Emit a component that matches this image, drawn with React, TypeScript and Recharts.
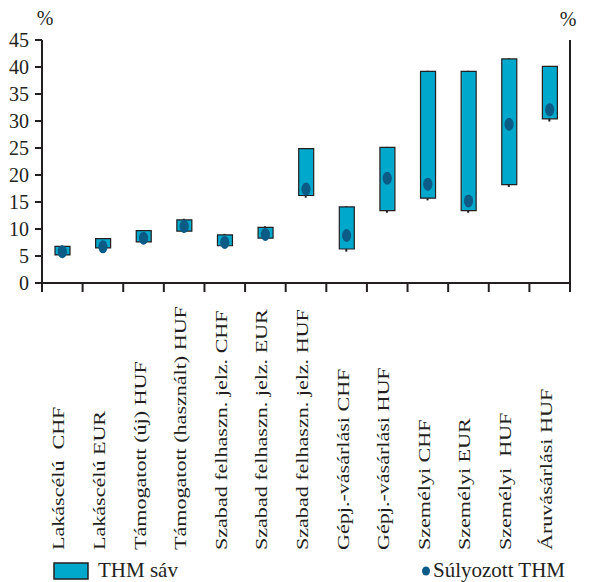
import React from 'react';
import { ComposedChart, Bar, Line, XAxis, YAxis } from 'recharts';

// categories and values
const categories = [
  'Lakáscélú  CHF',
  'Lakáscélú EUR',
  'Támogatott (új) HUF',
  'Támogatott (használt) HUF',
  'Szabad felhaszn. jelz. CHF',
  'Szabad felhaszn. jelz. EUR',
  'Szabad felhaszn. jelz. HUF',
  'Gépj.-vásárlási CHF',
  'Gépj.-vásárlási HUF',
  'Személyi CHF',
  'Személyi EUR',
  'Személyi  HUF',
  'Áruvásárlási HUF',
];
const bandLow = [5.2, 6.5, 7.6, 9.6, 6.9, 8.3, 16.2, 6.3, 13.4, 15.7, 13.4, 18.2, 30.4];
const bandHigh = [6.8, 8.2, 9.7, 11.7, 8.9, 10.3, 24.9, 14.1, 25.1, 39.2, 39.2, 41.5, 40.1];
const whiskerLow = [5.0, 6.3, 7.4, 9.3, 6.7, 8.1, 15.8, 5.8, 13.0, 15.3, 13.0, 17.8, 29.9];
const whiskerHigh = [6.9, 8.3, 9.8, 11.9, 9.1, 10.5, 25.0, 14.2, 25.2, 39.3, 39.3, 41.6, 40.2];
const weighted = [5.8, 6.7, 8.3, 10.5, 7.5, 9.0, 17.4, 8.8, 19.4, 18.3, 15.2, 29.4, 32.1];
const yTicks = [0, 5, 10, 15, 20, 25, 30, 35, 40, 45];

const data = categories.map((name, i) => ({
  name,
  band: [bandLow[i], bandHigh[i]],
  whisker: [whiskerLow[i], whiskerHigh[i]],
  weighted: weighted[i],
}));

const FONT = '"Liberation Serif", "Times New Roman", serif';
const INK = '#231f20';
const CYAN = '#00a8cb';
const DOT = '#0b5b87';

const CategoryTick = (props: any) => {
  const { x, y, payload, index, visibleTicksCount } = props;
  const half = payload.offset ?? 0;
  return (
    <g>
      <line x1={x - half} x2={x - half} y1={y} y2={y + 9} stroke={INK} strokeWidth={2} />
      {index === visibleTicksCount - 1 && (
        <line x1={x + half} x2={x + half} y1={y} y2={y + 9} stroke={INK} strokeWidth={2} />
      )}
      <text
        transform={`translate(${x + 2},${y + 267}) rotate(-90) scale(1.38,1)`}
        fontSize={16}
        fontFamily={FONT}
        fill={INK}
        textAnchor="start"
        style={{ whiteSpace: 'pre' }}
      >
        {payload.value}
      </text>
    </g>
  );
};

const WeightedDot = (props: any) => {
  const { cx, cy, index } = props;
  if (cx == null || cy == null) return <g key={index} />;
  return <ellipse key={index} cx={cx} cy={cy} rx={4.6} ry={6.5} fill={DOT} />;
};

export default function App() {
  return (
    <div style={{ position: 'relative', width: 600, height: 574 }}>
      <ComposedChart
        width={600}
        height={574}
        data={data}
        margin={{ top: 32, right: 0, left: 0, bottom: 40 }}
      >
        <XAxis
          dataKey="name"
          interval={0}
          height={259}
          tickSize={0}
          tickMargin={0}
          tickLine={false}
          axisLine={{ stroke: INK, strokeWidth: 2 }}
          tick={<CategoryTick />}
        />
        <XAxis xAxisId="w" dataKey="name" hide />
        <YAxis
          yAxisId="left"
          orientation="left"
          width={34}
          domain={[0, 45]}
          ticks={yTicks}
          interval={0}
          tickSize={7}
          tickMargin={6}
          axisLine={{ stroke: INK, strokeWidth: 2 }}
          tickLine={{ stroke: INK, strokeWidth: 2 }}
          tick={{ fill: INK, fontSize: 20, fontFamily: FONT }}
        />
        <YAxis
          yAxisId="right"
          orientation="right"
          width={38}
          domain={[0, 45]}
          ticks={yTicks}
          interval={0}
          tickSize={7}
          tickMargin={5}
          axisLine={{ stroke: INK, strokeWidth: 2 }}
          tickLine={{ stroke: INK, strokeWidth: 2 }}
          tick={{ fill: INK, fontSize: 20, fontFamily: FONT, textAnchor: 'start' }}
        />
        <Bar
          xAxisId="w"
          yAxisId="left"
          dataKey="whisker"
          barSize={2}
          fill={INK}
          isAnimationActive={false}
        />
        <Bar
          yAxisId="left"
          dataKey="band"
          barSize={15}
          fill={CYAN}
          stroke={INK}
          strokeWidth={1.2}
          isAnimationActive={false}
        />
        <Line
          yAxisId="left"
          dataKey="weighted"
          stroke="none"
          dot={WeightedDot}
          activeDot={false}
          isAnimationActive={false}
        />
      </ComposedChart>
      <svg
        width={600}
        height={574}
        style={{ position: 'absolute', left: 0, top: 0, pointerEvents: 'none' }}
      >
        <text x={37} y={17} fontSize={20} fontFamily={FONT} fill={INK} textAnchor="middle">%</text>
        <text x={560} y={18} fontSize={20} fontFamily={FONT} fill={INK} textAnchor="middle">%</text>
        <rect x={46} y={555} width={34} height={16} fill={CYAN} stroke={INK} strokeWidth={1.5} />
        <text x={90} y={569} fontSize={21} fontFamily={FONT} fill={INK}>THM sáv</text>
        <ellipse cx={418} cy={563} rx={4} ry={4.6} fill={DOT} />
        <text x={425} y={569} fontSize={21} fontFamily={FONT} fill={INK}>Súlyozott THM</text>
      </svg>
    </div>
  );
}
